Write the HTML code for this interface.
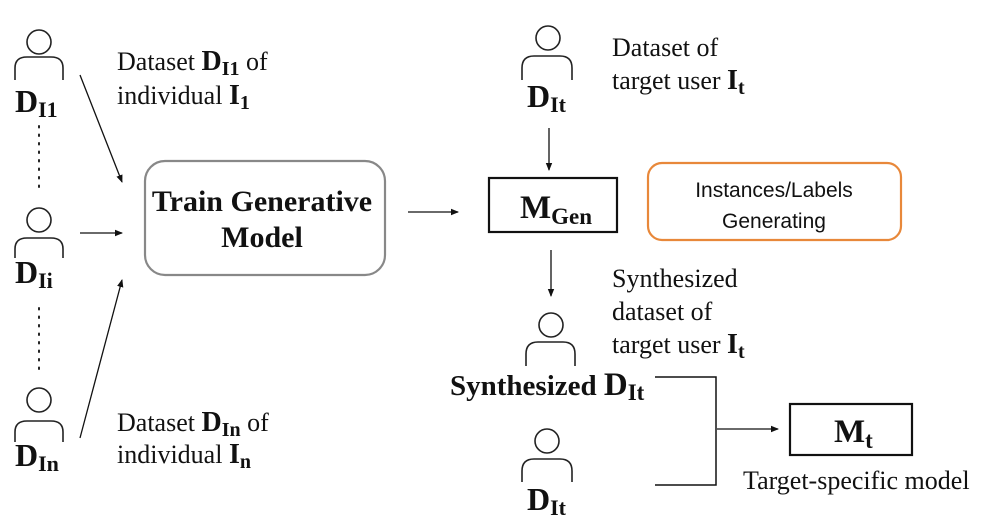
<!DOCTYPE html>
<html><head><meta charset="utf-8"><style>
html,body{margin:0;padding:0;background:#fff;}
svg{display:block;}
text{font-family:"Liberation Serif",serif;fill:#111;}
.b{font-weight:bold;}
.s{font-family:"Liberation Sans",sans-serif;}
</style></head><body>
<svg width="996" height="528" viewBox="0 0 996 528" xmlns="http://www.w3.org/2000/svg">
<defs>
<marker id="a" markerWidth="8" markerHeight="8" refX="7" refY="4" orient="auto" markerUnits="userSpaceOnUse"><path d="M0,0.8 L8,4 L0,7.2 Z" fill="#111"/></marker>
</defs>
<g fill="none" stroke="#222" stroke-width="1.6">
<circle cx="39" cy="42" r="12"/><path d="M15,80 V68 Q15,57 27,57 H51 Q63,57 63,68 V80"/>
<circle cx="39" cy="220" r="12"/><path d="M15,258 V249 Q15,238 27,238 H51 Q63,238 63,249 V258"/>
<circle cx="39" cy="400" r="12"/><path d="M15,442 V432 Q15,421 27,421 H51 Q63,421 63,432 V442"/>
<circle cx="548" cy="38" r="12"/><path d="M522,80 V68 Q522,56 534,56 H560 Q572,56 572,68 V80"/>
<circle cx="551" cy="325" r="12"/><path d="M526,366 V354 Q526,342 538,342 H563 Q575,342 575,354 V366"/>
<circle cx="547" cy="441" r="12"/><path d="M522,482 V471 Q522,459 534,459 H560 Q572,459 572,471 V482"/>
</g>
<g stroke="#222" stroke-width="2" stroke-dasharray="1.5,7" stroke-linecap="round">
<line x1="39" y1="126" x2="39" y2="192"/>
<line x1="39" y1="308" x2="39" y2="375"/>
</g>
<g stroke="#111" stroke-width="1.3" fill="none" marker-end="url(#a)">
<line x1="80" y1="75" x2="122" y2="182"/>
<line x1="80" y1="233" x2="122" y2="233"/>
<line x1="80" y1="438" x2="122" y2="280"/>
<line x1="408" y1="212" x2="458" y2="212"/>
<line x1="549" y1="128" x2="549" y2="170"/>
<line x1="551" y1="250" x2="551" y2="296"/>
<line x1="717" y1="429" x2="778" y2="429"/>
</g>
<path d="M655,377 H716 V485 H655" fill="none" stroke="#111" stroke-width="1.5"/>
<rect x="145" y="161" width="240" height="114" rx="20" fill="none" stroke="#888" stroke-width="2.2"/>
<rect x="489" y="178" width="128" height="54" fill="none" stroke="#111" stroke-width="2.2"/>
<rect x="648" y="163" width="253" height="77" rx="14" fill="none" stroke="#e8883a" stroke-width="2.2"/>
<rect x="790" y="404" width="122" height="51" fill="none" stroke="#111" stroke-width="2.2"/>
<text x="262" y="211" text-anchor="middle" font-size="30" class="b">Train Generative</text>
<text x="262" y="247" text-anchor="middle" font-size="30" class="b">Model</text>
<text x="774" y="197" text-anchor="middle" font-size="21" class="s">Instances/Labels</text>
<text x="774" y="228" text-anchor="middle" font-size="21" class="s">Generating</text>
<text x="520" y="218" font-size="33" class="b">M<tspan font-size="23" dy="6">Gen</tspan></text>
<text x="834" y="442" font-size="33" class="b">M<tspan font-size="23" dy="6">t</tspan></text>
<text x="15" y="112" font-size="32" class="b">D<tspan font-size="22" dy="5">I1</tspan></text>
<text x="15" y="283" font-size="32" class="b">D<tspan font-size="22" dy="5">Ii</tspan></text>
<text x="15" y="466" font-size="32" class="b">D<tspan font-size="22" dy="5">In</tspan></text>
<text x="527" y="107" font-size="32" class="b">D<tspan font-size="22" dy="5">It</tspan></text>
<text x="527" y="510" font-size="32" class="b">D<tspan font-size="22" dy="5">It</tspan></text>
<text x="450" y="395" font-size="29" class="b">Synthesized <tspan font-size="33">D</tspan><tspan font-size="23" dy="5">It</tspan></text>
<text x="117" y="70" font-size="26">Dataset <tspan class="b" font-size="28">D</tspan><tspan class="b" font-size="20" dy="5">I1</tspan><tspan dy="-5"> of</tspan></text>
<text x="117" y="104" font-size="26">individual <tspan class="b" font-size="28">I</tspan><tspan class="b" font-size="20" dy="5">1</tspan></text>
<text x="117" y="431" font-size="26">Dataset <tspan class="b" font-size="28">D</tspan><tspan class="b" font-size="20" dy="5">In</tspan><tspan dy="-5"> of</tspan></text>
<text x="117" y="463" font-size="26">individual <tspan class="b" font-size="28">I</tspan><tspan class="b" font-size="20" dy="5">n</tspan></text>
<text x="612" y="56" font-size="26">Dataset of</text>
<text x="612" y="89" font-size="26">target user <tspan class="b" font-size="28">I</tspan><tspan class="b" font-size="20" dy="5">t</tspan></text>
<text x="612" y="287" font-size="26">Synthesized</text>
<text x="612" y="320" font-size="26">dataset of</text>
<text x="612" y="353" font-size="26">target user <tspan class="b" font-size="28">I</tspan><tspan class="b" font-size="20" dy="5">t</tspan></text>
<text x="743" y="489" font-size="26">Target-specific model</text>
</svg>
</body></html>
